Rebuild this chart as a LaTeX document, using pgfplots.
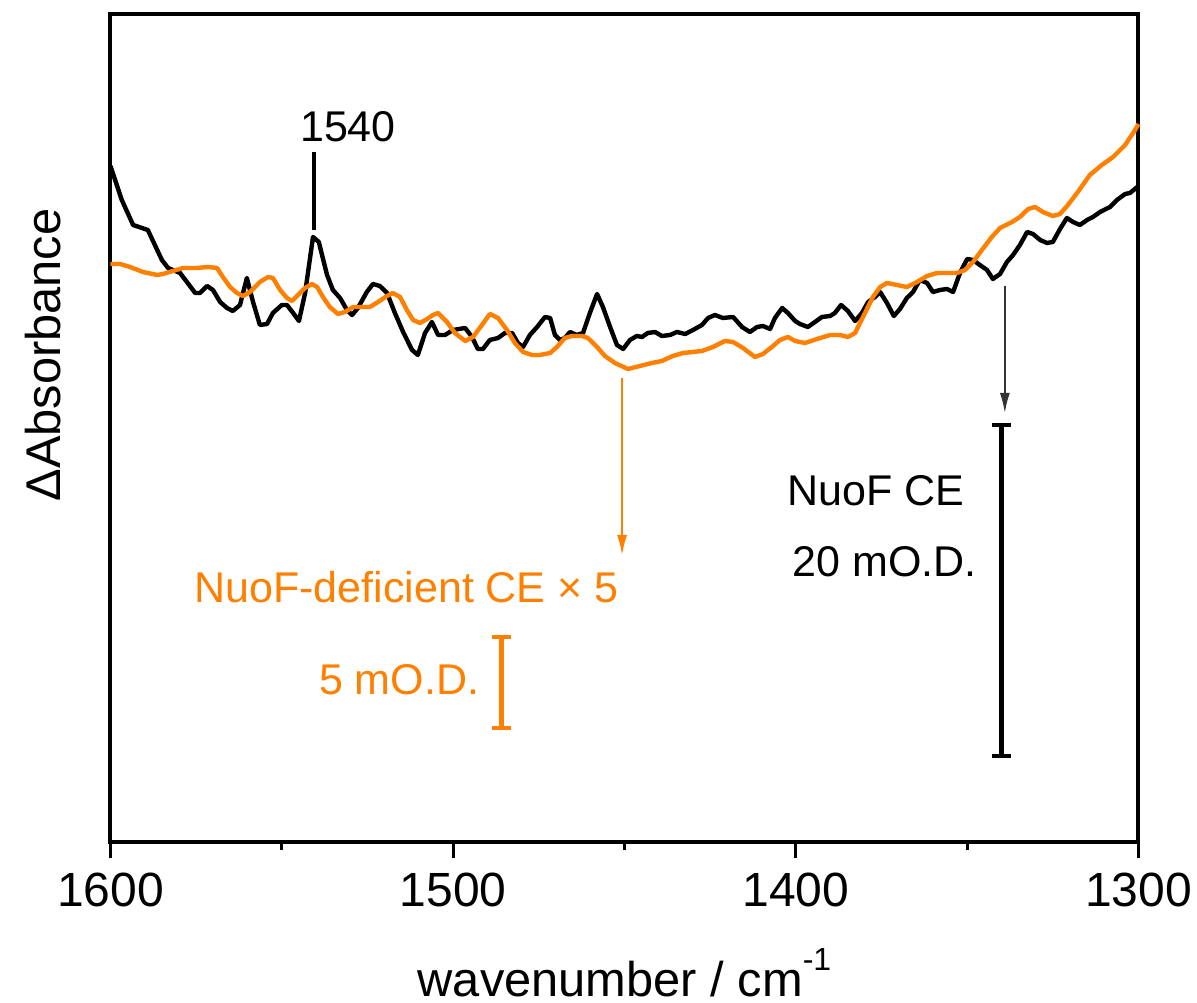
\documentclass[border=0pt]{standalone}
\usepackage{fontspec}
\setmainfont{Liberation Sans}
\usepackage{pgfplots}
\pgfplotsset{compat=1.18}
\usetikzlibrary{arrows.meta}
\definecolor{ora}{RGB}{255,128,0}
\begin{document}
\begin{tikzpicture}
\path[use as bounding box] (-27.625pt,-40.125pt) rectangle (271.625pt,210.625pt);
\begin{axis}[
  at={(0,0)}, anchor=south west,
  scale only axis, width=257pt, height=207.125pt,
  x dir=reverse, xmin=1300, xmax=1600, ymin=160.5, ymax=989,
  xtick={1300,1400,1500,1600}, minor xtick={1350,1450,1550},
  ytick=\empty, xtick pos=bottom, tick align=outside,
  major tick length=4pt, minor tick length=2pt,
  every tick/.style={black, line width=0.8pt},
  axis line style={line width=1pt},
  /pgf/number format/assume math mode=true,
  /pgf/number format/1000 sep={},
  xticklabel style={font=\fontsize{12}{14}\selectfont},
  xlabel={wavenumber / cm\raisebox{6.5pt}{\fontsize{8}{8}\selectfont -1}},
  xlabel style={at={(axis description cs:0.5,0)}, anchor=base, yshift=-38.6pt, inner sep=0pt, font=\fontsize{12.2}{14}\selectfont},
  ylabel={ΔAbsorbance},
  ylabel style={at={(axis description cs:-0.0491,0.5884)}, anchor=base, inner sep=0pt, font=\fontsize{12.2}{14}\selectfont},
  clip=false,
]
\addplot[black, line width=1.1pt, line join=round] coordinates {
(1600,837) (1596.7,803) (1593.4,778) (1589.1,773) (1585.0,743) (1583.2,735) (1579.7,730) (1577.7,721) (1575.3,710) (1573.9,710)
(1571.8,717) (1570.1,713) (1568.0,701) (1566.0,695) (1564.3,692) (1562.2,698) (1560.2,725) (1558.4,701) (1556.4,678) (1554.3,679)
(1552.6,690) (1550.0,698) (1548.5,698) (1546.7,690) (1545.0,682) (1543.2,710) (1540.9,766) (1539.2,761) (1536.8,728) (1535.1,713)
(1533.0,705) (1531.0,693) (1529.5,688) (1527.8,695) (1525.2,711) (1523.4,719) (1521.4,717) (1519.3,710) (1517.0,690) (1514.6,671)
(1512.0,653) (1510.3,648) (1508.2,670) (1506.2,681) (1504.4,668) (1502.4,668) (1500.0,673) (1496.5,675) (1494.5,666) (1492.8,654)
(1491.3,654) (1489.3,663) (1486.9,665) (1484.9,670) (1482.8,670) (1481.1,660) (1479.6,656) (1477.6,668) (1475.5,676) (1473.2,686)
(1471.7,685) (1470.3,668) (1468.8,663) (1467.4,665) (1465.9,671) (1463.9,668) (1462.1,670) (1460.1,690) (1458.0,709) (1456.3,696)
(1454.2,676) (1452.2,658) (1450.4,654) (1448.4,663) (1446.4,667) (1444.9,666) (1443.2,670) (1441.1,671) (1439.1,667) (1436.7,668)
(1434.7,671) (1432.3,669) (1430.0,673) (1427.4,678) (1425.6,685) (1423.6,688) (1421.3,685) (1418.3,686) (1415.7,676) (1413.4,671)
(1411.3,676) (1409.6,677) (1407.5,674) (1406.1,685) (1404.0,695) (1402.3,690) (1400.2,682) (1398.8,679) (1396.5,676) (1394.4,681)
(1392.4,686) (1390.0,687) (1388.6,690) (1386.8,698) (1384.8,692) (1382.7,682) (1380.7,690) (1378.9,701) (1376.9,706) (1375.4,711)
(1373.4,700) (1371.4,687) (1369.6,694) (1367.6,705) (1365.8,711) (1363.8,723) (1361.7,720) (1360.0,711) (1357.9,713) (1355.9,714)
(1354.1,711) (1352.1,730) (1350.0,744) (1348.3,743) (1346.3,738) (1344.2,733) (1342.5,724) (1340.4,729) (1338.4,741) (1336.6,748)
(1334.6,758) (1332.5,771) (1330.8,769) (1328.7,763) (1326.7,760) (1325.0,761) (1322.9,774) (1320.9,785) (1319.1,781) (1317.1,778)
(1315.0,783) (1313.3,786) (1311.2,791) (1308.3,796) (1306.3,803) (1303.9,809) (1302.5,810) (1300.7,815) (1300,817)
};
\addplot[ora, line width=1.1pt, line join=round] coordinates {
(1600,739) (1597.2,739) (1594.3,736) (1590.5,731) (1586.4,728) (1584.7,729) (1581.8,732) (1578.8,735) (1574.8,735) (1571.5,736)
(1568.9,735) (1567.2,726) (1565.1,716) (1563.1,710) (1561.3,707) (1559.3,711) (1556.4,721) (1554.0,726) (1552.6,725) (1550.5,713)
(1548.5,705) (1547.0,702) (1545.3,708) (1543.2,715) (1541.2,719) (1539.7,716) (1538.0,706) (1536.0,696) (1533.6,689) (1531.6,691)
(1529.2,696) (1526.6,696) (1524.3,696) (1521.9,701) (1519.3,707) (1517.6,710) (1515.5,706) (1513.5,693) (1511.7,683) (1509.7,680)
(1507.6,684) (1505.9,688) (1504.4,690) (1501.8,681) (1499.5,670) (1496.5,662) (1494.2,666) (1491.6,678) (1489.3,689) (1486.9,685)
(1484.3,673) (1482.0,660) (1479.6,651) (1477.0,648) (1474.7,648) (1471.7,650) (1469.7,656) (1467.4,665) (1465.3,667) (1462.4,667)
(1460.7,665) (1458.0,656) (1455.7,647) (1452.8,640) (1449.0,634) (1445.5,637) (1442.0,640) (1439.1,642) (1435.9,647) (1432.9,650)
(1427.4,652) (1424.2,656) (1420.7,662) (1418.3,661) (1415.4,655) (1411.9,646) (1409.6,649) (1407.0,656) (1404.6,663) (1402.3,666)
(1400.2,662) (1397.3,660) (1393.8,664) (1390.0,668) (1387.1,668) (1384.8,666) (1382.7,670) (1380.4,686) (1377.5,706) (1375.4,716)
(1373.4,720) (1370.5,718) (1367.6,716) (1364.6,721) (1361.7,727) (1358.8,730) (1355.9,730) (1353.0,730) (1350.6,733) (1348.3,741)
(1345.7,753) (1342.8,766) (1340.4,775) (1336.9,781) (1334.6,786) (1332.2,794) (1330.2,796) (1327.9,791) (1325.0,787) (1322.9,789)
(1320.6,798) (1317.7,811) (1314.2,828) (1310.7,838) (1307.4,846) (1303.9,858) (1301.0,873) (1300,879)
};
% 1540 marker
\draw[black, line width=1pt] (axis cs:1540.5,851) -- (axis cs:1540.5,773);
\node[anchor=base, inner sep=0pt, font=\fontsize{10.75}{13}\selectfont] at (axis cs:1530.7,861) {1540};
% orange annotation
\draw[ora, line width=0.45pt, -{Latex[length=5pt,width=2.5pt]}] (axis cs:1450.7,625) -- (axis cs:1450.7,448);
\node[ora, anchor=base, inner sep=0pt, font=\fontsize{10.75}{13}\selectfont] at (axis cs:1513.6,400) {NuoF-deficient CE × 5};
\draw[ora, line width=1.3pt] (axis cs:1486,366) -- (axis cs:1486,275);
\draw[ora, line width=1pt] (axis cs:1488.8,366) -- (axis cs:1483.2,366);
\draw[ora, line width=1pt] (axis cs:1488.8,275) -- (axis cs:1483.2,275);
\node[ora, anchor=base east, inner sep=0pt, font=\fontsize{10.75}{13}\selectfont] at (axis cs:1492.2,308) {5 mO.D.};
% black annotation
\draw[black!80, line width=0.45pt, -{Latex[length=5pt,width=2.5pt]}] (axis cs:1339.0,717) -- (axis cs:1339.0,590);
\draw[black, line width=1.1pt] (axis cs:1340.0,578) -- (axis cs:1340.0,247);
\draw[black, line width=1pt] (axis cs:1342.8,578) -- (axis cs:1337.2,578);
\draw[black, line width=1pt] (axis cs:1342.8,247) -- (axis cs:1337.2,247);
\node[anchor=base, inner sep=0pt, font=\fontsize{10.75}{13}\selectfont] at (axis cs:1376.6,497) {NuoF CE};
\node[anchor=base, inner sep=0pt, font=\fontsize{10.75}{13}\selectfont] at (axis cs:1374,426) {20 mO.D.};
\end{axis}
\end{tikzpicture}
\end{document}
